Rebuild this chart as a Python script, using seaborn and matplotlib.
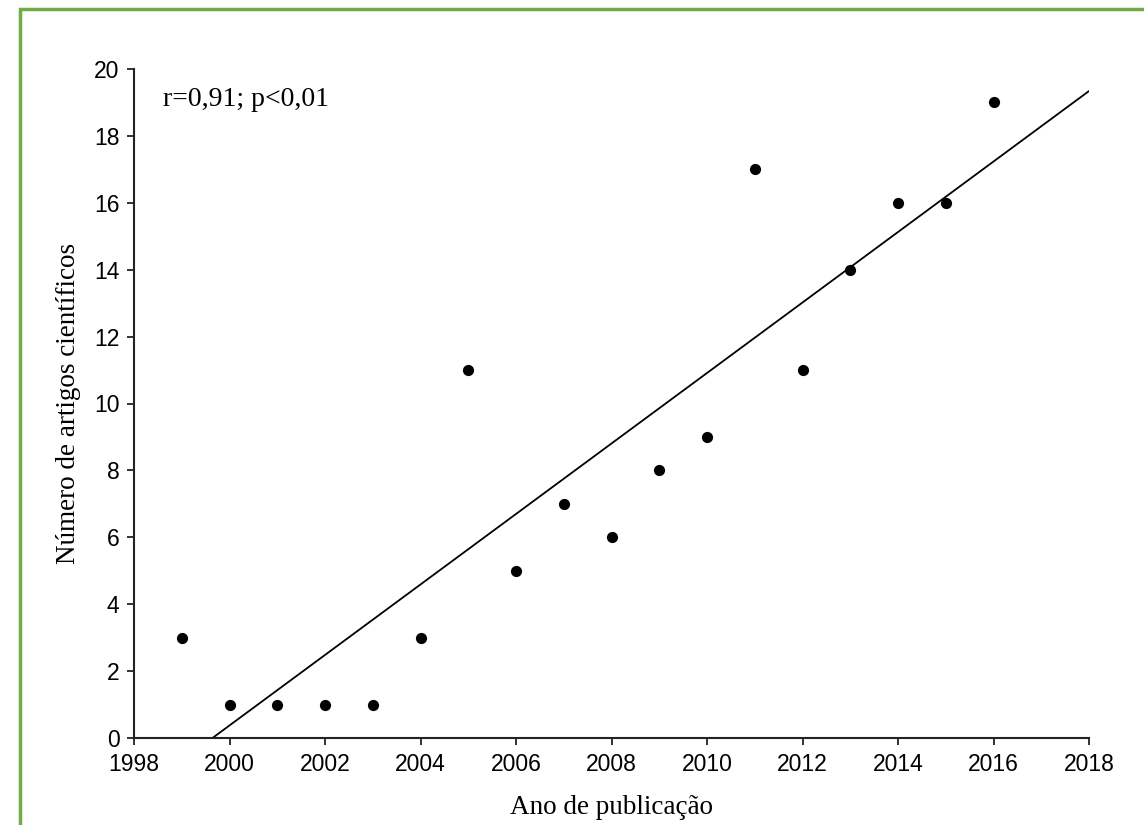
import numpy as np
import pandas as pd
import matplotlib
matplotlib.use("Agg")
import matplotlib.pyplot as plt
import seaborn as sns
from matplotlib.patches import Rectangle

years = [1999, 2000, 2001, 2002, 2003, 2004, 2005, 2006, 2007, 2008,
         2009, 2010, 2011, 2012, 2013, 2014, 2015, 2016]
articles = [3, 1, 1, 1, 1, 3, 11, 5, 7, 6, 8, 9, 17, 11, 14, 16, 16, 19]
xticks = list(range(1998, 2019, 2))
yticks = list(range(0, 21, 2))
annotation = "r=0,91; p<0,01"
xlabel = "Ano de publicação"
ylabel = "Número de artigos científicos"

df = pd.DataFrame({"ano": years, "artigos": articles})

sns.set_style("ticks")
plt.rcParams['font.family'] = ['Liberation Sans', 'DejaVu Sans']

fig = plt.figure(figsize=(11.44, 8.25), dpi=100)
ax = fig.add_axes([134/1144, 1-738/825, (1089-134)/1144, (738-69)/825])

sns.scatterplot(data=df, x="ano", y="artigos", ax=ax, color="black",
                s=65, edgecolor="black", linewidth=0, zorder=3)

slope, intercept = np.polyfit(df["ano"], df["artigos"], 1)
x0 = -intercept / slope
line_x = np.array([x0, 2018])
line_df = pd.DataFrame({"x": line_x, "y": slope * line_x + intercept})
sns.lineplot(data=line_df, x="x", y="y", ax=ax, color="black", linewidth=1.3)

ax.set_xlim(1998, 2018)
ax.set_ylim(0, 20)
ax.set_xticks(xticks)
ax.set_yticks(yticks)
ax.tick_params(axis="both", labelsize=16.5, length=5, width=1.3, color="#222222",
               labelcolor="black", pad=5.5)
for s in ["left", "bottom"]:
    ax.spines[s].set_linewidth(1.5)
    ax.spines[s].set_color("#222222")
sns.despine(ax=ax)

serif = ['Liberation Serif', 'DejaVu Serif']
ax.set_xlabel(xlabel, fontsize=19.5, family=serif, color="black")
ax.set_ylabel(ylabel, fontsize=19.5, family=serif, color="black")
ax.xaxis.set_label_coords(0.5, -0.085)
ax.yaxis.set_label_coords(-0.056, 0.5)

ax.text(1998.6, 19.08, annotation, fontsize=20, family=serif, va="center",
        ha="left", color="black")

fig.patches.append(Rectangle((20/1144, -0.1), 1.2, 1 - 9/825 + 0.1,
                             transform=fig.transFigure, fill=False,
                             edgecolor="#70AD47", linewidth=2.5, zorder=10))

fig.savefig("out.png", dpi=100)
